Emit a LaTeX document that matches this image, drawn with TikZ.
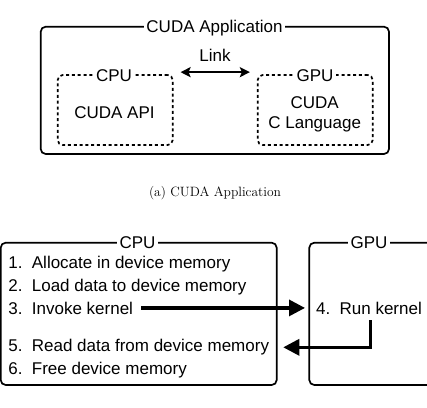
\documentclass[tikz,border=0pt]{standalone}
\usepackage{fontspec}
\newfontfamily\arialfont{Liberation Sans}
\usetikzlibrary{arrows.meta}
\tikzset{
  lbl/.style={font=\arialfont\fontsize{17}{20}\selectfont, inner sep=1pt},
  ttl/.style={lbl, fill=white, inner xsep=2.5pt, inner ysep=0pt, anchor=base},
  item/.style={lbl, anchor=base west},
  box/.style={draw, line width=1.7pt, rounded corners=5pt},
  dbox/.style={box, dash pattern=on 3pt off 2.8pt},
  linkarrow/.style={line width=2pt, {Stealth[length=10pt,width=10pt,inset=2pt]}-{Stealth[length=10pt,width=10pt,inset=2pt]}},
  bigarrow/.style={line width=3.2pt, -{Triangle[length=16pt,width=16pt]}},
}
\newcommand{\numbox}[1]{\makebox[23.4pt][l]{#1}}
\begin{document}
\begin{tikzpicture}[x=1pt,y=-1pt]
\useasboundingbox (0,0) rectangle (427,407);
% (a) CUDA 应用
\draw[box] (40.7,26.7) rectangle (389,154);
\node[ttl] (app) at (214.5,32.8) {CUDA Application};
\node[dbox, minimum width=115pt, minimum height=70pt] (cpubox) at (115.2,110) {};
\node[dbox, minimum width=115pt, minimum height=70pt] (gpubox) at (315.2,110) {};
\node[ttl] (cputitle) at (114,81.1) {CPU};
\node[ttl] (gputitle) at (315,81.1) {GPU};
\node[lbl] (api) at (114.5,113) {CUDA API};
\node[lbl, align=center] (lang) at (314.7,114.7) {CUDA\\C Language};
\node[lbl] (link) at (215,55) {Link};
\draw[linkarrow] ([xshift=7pt,yshift=2pt]cpubox.north east) -- ([xshift=-7pt,yshift=2pt]gpubox.north west);
\node[font=\fontsize{13.5}{16}\selectfont] (caption) at (215,193) {(a) CUDA Application};

% 下图
\draw[box] (0.7,242.7) rectangle (276.7,385);
\draw[box] (309.3,242.7) rectangle (440,385);
\node[ttl] (cpu) at (137.5,248.8) {CPU};
\node[ttl] (gpu) at (369,248.8) {GPU};
\node[item] (s1) at (7.3,268.3) {\numbox{1.}Allocate in device memory};
\node[item] (s2) at (7.3,291) {\numbox{2.}Load data to device memory};
\node[item] (s3) at (7.3,314) {\numbox{3.}Invoke kernel};
\node[item] (s5) at (7.3,351.7) {\numbox{5.}Read data from device memory};
\node[item] (s6) at (7.3,374) {\numbox{6.}Free device memory};
\node[item] (s4) at (315,314) {\numbox{4.}Run kernel};
\draw[bigarrow, shorten <=7pt, shorten >=10pt] (s3.east) -- (s4.west);
\draw[bigarrow] ([xshift=1.5pt,yshift=-5pt]s4.south) |- ([xshift=13pt]s5.east);
\end{tikzpicture}
\end{document}
